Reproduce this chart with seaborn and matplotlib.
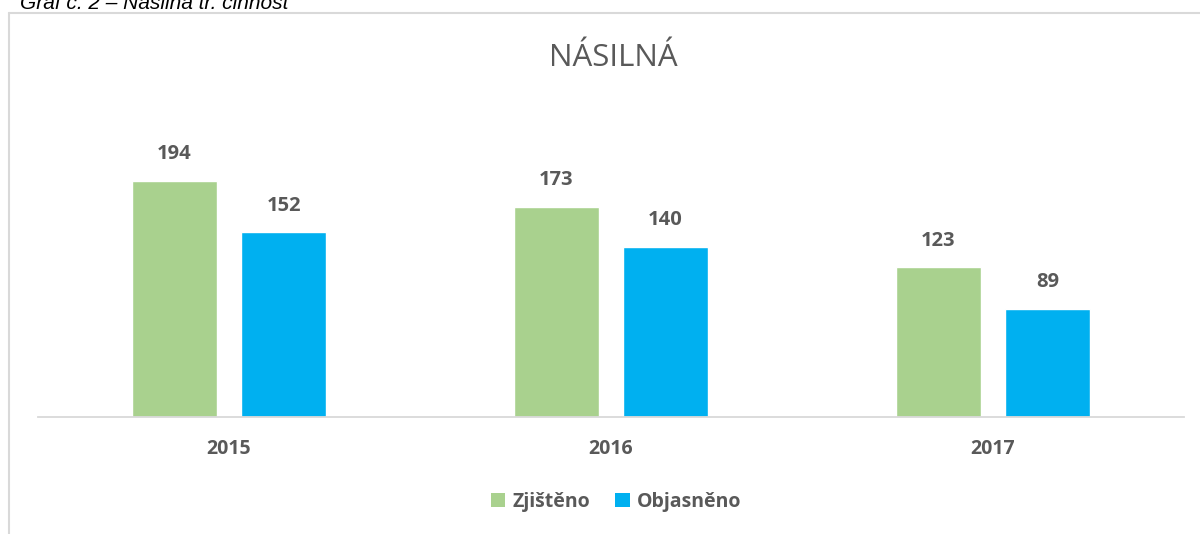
import pandas as pd
import matplotlib.pyplot as plt
import seaborn as sns
from matplotlib.lines import Line2D
from matplotlib.patches import Patch

###Data###
years = ["2015", "2016", "2017"]
zjisteno = [194, 173, 123]
objasneno = [152, 140, 89]
series_names = ["Zjištěno", "Objasněno"]

df = pd.DataFrame({
    "rok": years * 2,
    "pocet": zjisteno + objasneno,
    "typ": [series_names[0]] * 3 + [series_names[1]] * 3,
})

sns.set_theme(style="white")
plt.rcParams['font.family'] = ['Open Sans', 'DejaVu Sans']

text_col = "#595959"
colors = ["#A9D18E", "#00B0F0"]

fig = plt.figure(figsize=(12, 5.34), dpi=100)
ax = fig.add_axes([38 / 1200, 117 / 534, 1146 / 1200, 304 / 534])

sns.barplot(data=df, x="rok", y="pocet", hue="typ", palette=colors,
            width=0.571, gap=0.22, saturation=1, ax=ax, legend=False)

for cont in ax.containers:
    ax.bar_label(cont, padding=12, fontsize=14.5, fontweight='bold', color=text_col)

ax.set_xlim(-0.5, 2.5)
ax.set_ylim(0, 250)
ax.set_xlabel("")
ax.set_ylabel("")
ax.set_yticks([])
ax.tick_params(axis='x', length=0, pad=16, labelsize=14, labelcolor=text_col)
for lbl in ax.get_xticklabels():
    lbl.set_fontweight('bold')
for side in ["top", "right", "left"]:
    ax.spines[side].set_visible(False)
ax.spines["bottom"].set_color("#D9D9D9")
ax.spines["bottom"].set_linewidth(1.3)

# title
fig.text(613 / 1200, 1 - 58 / 534, "NÁSILNÁ", ha='center', va='center',
         fontsize=22.5, color=text_col)

# legend
handles = [Patch(facecolor=c, edgecolor='none') for c in colors]
fig.legend(handles, series_names, loc='center', bbox_to_anchor=(616 / 1200, 1 - 502 / 534),
           ncol=2, frameon=False, handlelength=0.75, handleheight=0.75, handletextpad=0.35,
           columnspacing=1.3, prop={'weight': 'bold', 'size': 14}, labelcolor=text_col)

# chart frame
fig.add_artist(Line2D([9 / 1200, 9 / 1200], [0, 1 - 13 / 534], color="#D9D9D9", lw=1.5))
fig.add_artist(Line2D([9 / 1200, 1], [1 - 13 / 534, 1 - 13 / 534], color="#D9D9D9", lw=1.5))

# caption (cut at the top of the image, as in the source)
fig.text(20 / 1200, 1 - 9 / 534, "Graf č. 2 – Násilná tr. činnost", ha='left', va='baseline',
         fontsize=15, style='italic', color='black', family=['Liberation Sans', 'DejaVu Sans'])

plt.savefig("out.png", dpi=100)
